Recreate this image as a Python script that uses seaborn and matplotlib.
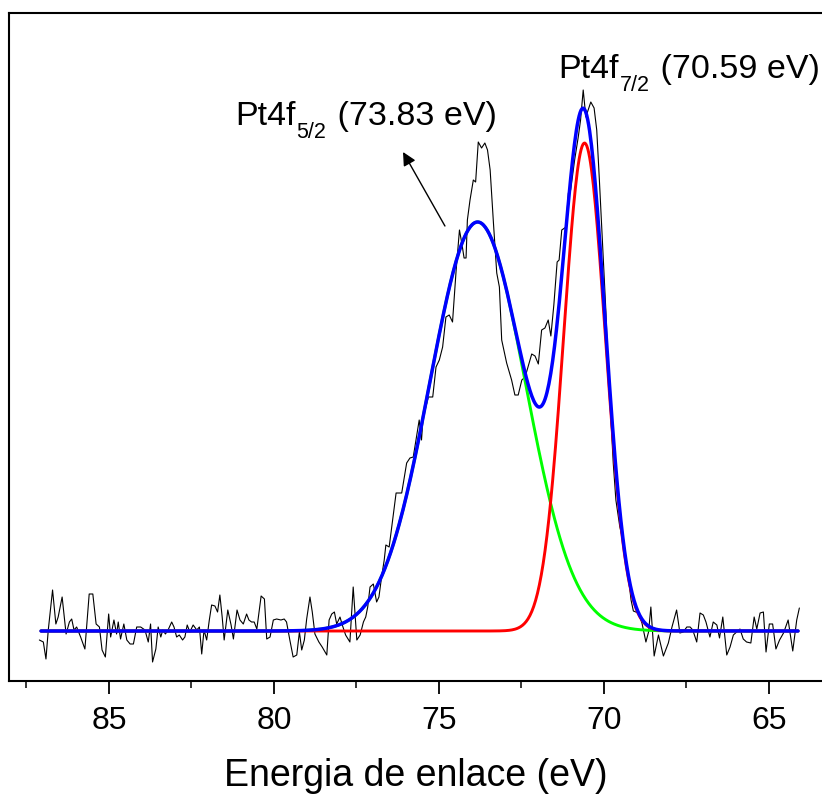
import numpy as np
import pandas as pd
import matplotlib
matplotlib.use("Agg")
import matplotlib.pyplot as plt
import seaborn as sns
from matplotlib.ticker import MultipleLocator

# ---- measured spectrum (binding energy in eV, intensity in arbitrary units above background)
energy = [87.11, 86.99, 86.91, 86.84, 86.71, 86.61, 86.54, 86.42, 86.30, 86.20, 86.13, 86.06, 85.98,
          85.86, 85.73, 85.60, 85.49, 85.39, 85.29, 85.21, 85.11, 85.01, 84.95, 84.85, 84.77, 84.72,
          84.65, 84.55, 84.46, 84.36, 84.26, 84.16, 84.04, 83.91, 83.81, 83.74, 83.68, 83.58, 83.51,
          83.43, 83.37, 83.29, 83.21, 83.10, 83.03, 82.95, 82.87, 82.77, 82.70, 82.63, 82.55, 82.45,
          82.34, 82.26, 82.19, 82.12, 82.04, 81.96, 81.89, 81.79,
          81.71, 81.64, 81.57, 81.51, 81.40, 81.30, 81.23, 81.12, 81.03, 80.93, 80.83, 80.76, 80.68,
          80.60, 80.52, 80.39, 80.29, 80.22, 80.12, 80.02, 79.92, 79.79, 79.69, 79.62, 79.52, 79.42,
          79.31, 79.23, 79.16, 79.08, 79.01, 78.91, 78.84, 78.76, 78.64, 78.54, 78.40, 78.33, 78.25,
          78.17, 78.10, 78.00, 77.93, 77.83, 77.70, 77.60, 77.49, 77.39, 77.29, 77.22, 77.16, 77.09,
          76.99, 76.89, 76.82, 76.74, 76.66,
          76.61, 76.51, 76.30, 76.13, 75.98, 75.88, 75.78, 75.60, 75.53, 75.48, 75.32, 75.19, 75.09,
          74.99, 74.89, 74.79, 74.69, 74.59, 74.48, 74.38, 74.31, 74.24, 74.18, 74.14, 74.06, 73.96,
          73.89, 73.81, 73.71, 73.61, 73.53, 73.45, 73.35, 73.25, 73.17, 73.10, 72.95, 72.80, 72.70,
          72.60, 72.49, 72.39, 72.19, 72.09, 71.99, 71.89, 71.79, 71.69, 71.61, 71.52, 71.42, 71.36,
          71.28, 71.15, 71.08, 71.01, 70.89, 70.78, 70.71, 70.63, 70.55, 70.48, 70.40, 70.30, 70.22,
          70.14, 70.04, 69.94, 69.87, 69.80, 69.72, 69.64, 69.52, 69.39, 69.27, 69.18, 69.11, 68.96,
          68.85, 68.73, 68.65, 68.58, 68.48, 68.35, 68.20, 68.05, 67.94, 67.80, 67.70, 67.60, 67.49,
          67.39, 67.31, 67.19, 67.09, 66.99, 66.91, 66.79, 66.69, 66.58, 66.50, 66.40, 66.28, 66.18,
          66.08, 65.98, 65.88, 65.78, 65.68, 65.55, 65.45, 65.37, 65.27, 65.17, 65.09, 64.99, 64.89,
          64.79, 64.68, 64.56, 64.42, 64.28, 64.16, 64.08]
intensity = [-9, -11, -28, 1, 41, 7, 14, 34, -3, 9, 12, 1, 4,
             -6, -18, 37, 37, 7, 4, -19, -26, 17, -6, 11, -3, 9,
             -8, 7, -9, -13, -13, 4, 4, 1, -11, 7, -31, -18, 4,
             -6, 1, -3, 1, 9, 4, -6, -4, -9, -6, 6, -1, 6,
             1, 4, -23, 1, -9, 11, 26, 25,
             19, 36, 14, -9, 21, 6, -8, 21, 11, 7, 17, 11, 9,
             9, 2, 35, 32, -8, -6, 11, 12, 11, 12, 9, -9, -26,
             -24, -1, -19, -9, 12, 34, 19, -3, -11, -16, -24, 11, 17,
             19, 7, 14, 6, -4, -11, 44, -9, -4, 9, 14, 24, 44,
             47, 29, 34, 54, 71,
             86, 84, 138, 138, 168, 173, 174, 211, 191, 214, 234, 234, 264,
             271, 284, 314, 316, 309, 361, 401, 388, 373, 373, 411, 431, 451,
             449, 489, 483, 488, 481, 461, 408, 358, 344, 291, 268, 251, 236,
             236, 251, 254, 277, 275, 267, 301, 303, 311, 295, 326, 369, 371,
             401, 404, 438, 441, 471, 494, 511, 541, 514, 521, 529, 523, 501,
             451, 384, 318, 258, 218, 168, 131, 104, 86, 56, 31, 20, 18,
             8, -11, -1, 24, -25, -4, -25, -12, 4, 21, -2, -1, 4,
             4, 1, -11, 18, 16, 9, -6, 9, 6, -7, 14, -24, -16,
             -4, -1, 2, -8, -11, -12, 14, 2, 18, 19, -21, 7, 7,
             -18, -9, -2, 11, -20, 11, 23]

# ---- fitted components (Pt4f5/2, Pt4f7/2)
peak_names = ["Pt4f", "Pt4f"]
peak_subs = ["5/2", "7/2"]
peak_centers = [73.83, 70.59]
peak_heights = [409, 488]
peak_sigmas = [1.45, 0.63]
peak_colors = ["#00ff00", "#ff0000"]
envelope_color = "#0000ff"
fit_range = [87.06, 64.12]

xticks = [85, 80, 75, 70, 65]
xlabel = "Energia de enlace (eV)"

sns.set_style("ticks")
plt.rcParams["font.family"] = ["Liberation Sans", "DejaVu Sans"]

W, H = 822, 796
fig = plt.figure(figsize=(W / 100, H / 100), dpi=100)
ax = fig.add_axes([9 / W, 1 - 681 / H, 1 - 9 / W, (681 - 13) / H])

data = pd.DataFrame({"energy": energy, "intensity": intensity})
sns.lineplot(data=data, x="energy", y="intensity", ax=ax, color="black",
             lw=0.8, sort=False, estimator=None, zorder=1)

grid = np.linspace(fit_range[0], fit_range[1], 800)
comps = []
for c, h, s in zip(peak_centers, peak_heights, peak_sigmas):
    comps.append(h * np.exp(-0.5 * ((grid - c) / s) ** 2))
fits = pd.DataFrame({"energy": grid, "c1": comps[0], "c2": comps[1],
                     "env": comps[0] + comps[1]})
sns.lineplot(data=fits, x="energy", y="c1", ax=ax, color=peak_colors[0], lw=2.1, zorder=2)
sns.lineplot(data=fits, x="energy", y="c2", ax=ax, color=peak_colors[1], lw=2.1, zorder=3)
sns.lineplot(data=fits, x="energy", y="env", ax=ax, color=envelope_color, lw=2.5, zorder=4)

x_left = 88.03
x_right = 65 - (822 - 769) / 33
ax.set_xlim(x_left, x_right)
ax.set_ylim(-50, 618)

ax.xaxis.set_major_locator(MultipleLocator(5))
ax.xaxis.set_minor_locator(MultipleLocator(2.5))
ax.set_xticks(xticks)
ax.set_xticklabels([str(t) for t in xticks])
ax.tick_params(axis="x", which="major", direction="out", length=9, width=1.3,
               labelsize=23, pad=9, top=False, color="black", labelcolor="black")
ax.tick_params(axis="x", which="minor", direction="out", length=5, width=1.3, top=False)
ax.set_yticks([])
ax.set_ylabel("")
ax.set_xlabel(xlabel, fontsize=27, labelpad=16, color="black")

for side in ["left", "top", "bottom"]:
    ax.spines[side].set_visible(True)
    ax.spines[side].set_linewidth(1.5)
    ax.spines[side].set_color("black")
ax.spines["right"].set_visible(False)


def peak_label(x, y, name, sub, value):
    t1 = ax.text(x, y, name, fontsize=24.5, ha="left", va="baseline", color="black")
    t2 = ax.annotate(sub, xy=(1, 0), xycoords=t1, xytext=(0.8, -8),
                     textcoords="offset points", fontsize=15.5, ha="left",
                     va="bottom", color="black")
    ax.annotate(f" ({value:.2f} eV)", xy=(1, 0), xycoords=(t2, t1),
                xytext=(0.8, 0), textcoords="offset points", fontsize=24.5,
                ha="left", va="bottom", color="black")


peak_label(81.18, 506, peak_names[0], peak_subs[0], peak_centers[0])
peak_label(71.39, 553, peak_names[1], peak_subs[1], peak_centers[1])

ax.annotate("", xy=(76.09, 479), xytext=(74.82, 405),
            arrowprops=dict(arrowstyle="-|>", color="black", lw=1.0,
                            mutation_scale=20, shrinkA=0, shrinkB=0))

fig.savefig("out.png", dpi=100)
